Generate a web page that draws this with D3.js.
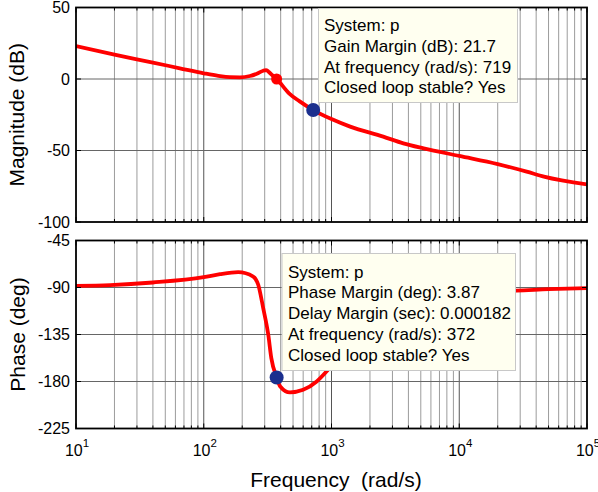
<!DOCTYPE html>
<html>
<head>
<meta charset="utf-8">
<script src="https://cdn.jsdelivr.net/npm/d3@7"></script>
<style>
  body { margin: 0; background: #fff; }
  text { font-family: "Liberation Sans", Arial, sans-serif; fill: #000; }
</style>
</head>
<body>
<svg id="chart" width="598" height="492"></svg>
<script>
// magnitude response
var magFreq = [10, 20, 40, 65, 100, 130, 160, 192, 230, 260, 292, 307, 320, 340, 372, 465, 560, 719, 1000, 1400, 2540, 3650, 5260, 10000, 20000, 33700, 46000, 100000];
var magDb   = [23, 17, 11.5, 7.5, 4, 2.2, 1.3, 1.2, 2.1, 3.6, 5.8, 6.2, 5.3, 3, 0, -10, -15.5, -21.7, -28, -33.3, -40.3, -45, -48.5, -53.8, -59.5, -64.8, -68.3, -73.7];

// phase response
var phaseFreq = [10, 18.5, 40, 100, 134, 186, 244, 267, 292, 320, 338, 372, 397, 473, 600, 766, 940, 1300, 2000, 3000, 5000, 10000, 20000, 28000, 50000, 100000];
var phaseDeg  = [-88.4, -87.7, -85.2, -80.1, -77.2, -75.3, -79.5, -87.4, -109.7, -135.3, -157.6, -176.1, -184.8, -190.5, -188, -180, -168.8, -148, -126, -112, -101, -95.5, -93.3, -92.9, -91.6, -90.6];

var magTicks = [50, 0, -50, -100];
var phaseTicks = [-45, -90, -135, -180, -225];
var decades = [1, 2, 3, 4, 5];

// margin markers
var gmPoint = {freq: 719, val: -21.7};
var crossPoint = {freq: 372, val: 0};
var pmPoint = {freq: 372, val: -176.13};

var gmText = ["System: p", "Gain Margin (dB): 21.7", "At frequency (rad/s): 719", "Closed loop stable? Yes"];
var pmText = ["System: p", "Phase Margin (deg): 3.87", "Delay Margin (sec): 0.000182", "At frequency (rad/s): 372", "Closed loop stable? Yes"];

var left = 76, right = 587;
var svg = d3.select("#chart");

var x = d3.scaleLog().domain([10, 1e5]).range([left, right]);
var yMag = d3.scaleLinear().domain([-100, 50]).range([222, 7.5]);
var yPh = d3.scaleLinear().domain([-225, -45]).range([428.5, 240.5]);

// minor positions 2..9 in each decade
var minors = [];
for (var k = 1; k < 5; k++) {
  for (var m = 2; m < 10; m++) minors.push(m * Math.pow(10, k));
}
var majors = decades.map(function(d) { return Math.pow(10, d); });

function panel(y, ticks, freq, vals, id) {
  var g = svg.append("g");
  var y0 = y.range()[0], y1 = y.range()[1];

  g.append("clipPath").attr("id", id)
    .append("rect").attr("x", left).attr("y", y1).attr("width", right - left).attr("height", y0 - y1);

  // grid
  g.append("g").selectAll("line").data(minors).enter().append("line")
    .attr("x1", function(d) { return x(d); }).attr("x2", function(d) { return x(d); })
    .attr("y1", y1).attr("y2", y0)
    .attr("stroke", "#9c9c9c").attr("stroke-width", 1);
  g.append("g").selectAll("line").data(majors.slice(1, 4)).enter().append("line")
    .attr("x1", function(d) { return x(d); }).attr("x2", function(d) { return x(d); })
    .attr("y1", y1).attr("y2", y0)
    .attr("stroke", "#555").attr("stroke-width", 1);
  g.append("g").selectAll("line").data(ticks.slice(1, ticks.length - 1)).enter().append("line")
    .attr("x1", left).attr("x2", right)
    .attr("y1", function(d) { return y(d); }).attr("y2", function(d) { return y(d); })
    .attr("stroke", "#666").attr("stroke-width", 1);

  // response curve
  var line = d3.line()
    .x(function(d) { return x(d[0]); })
    .y(function(d) { return y(d[1]); })
    .curve(d3.curveMonotoneX);
  g.append("path")
    .datum(d3.zip(freq, vals))
    .attr("clip-path", "url(#" + id + ")")
    .attr("d", line)
    .attr("fill", "none")
    .attr("stroke", "#ff0000")
    .attr("stroke-width", 3.8)
    .attr("stroke-linejoin", "round");

  // ticks inside the box
  var tk = g.append("g").attr("stroke", "#000").attr("stroke-width", 1);
  minors.forEach(function(d) {
    tk.append("line").attr("x1", x(d)).attr("x2", x(d)).attr("y1", y0).attr("y2", y0 - 3);
    tk.append("line").attr("x1", x(d)).attr("x2", x(d)).attr("y1", y1).attr("y2", y1 + 3);
  });
  majors.forEach(function(d) {
    tk.append("line").attr("x1", x(d)).attr("x2", x(d)).attr("y1", y0).attr("y2", y0 - 5);
    tk.append("line").attr("x1", x(d)).attr("x2", x(d)).attr("y1", y1).attr("y2", y1 + 5);
  });
  ticks.forEach(function(d) {
    tk.append("line").attr("x1", left).attr("x2", left + 5).attr("y1", y(d)).attr("y2", y(d));
    tk.append("line").attr("x1", right).attr("x2", right - 5).attr("y1", y(d)).attr("y2", y(d));
  });

  // box
  g.append("rect")
    .attr("x", left).attr("y", y1).attr("width", right - left).attr("height", y0 - y1)
    .attr("fill", "none").attr("stroke", "#000").attr("stroke-width", 1.8);

  // y tick labels
  g.append("g").selectAll("text").data(ticks).enter().append("text")
    .attr("x", 70).attr("y", function(d) { return y(d); })
    .attr("dy", "0.36em")
    .attr("text-anchor", "end")
    .attr("font-size", 16)
    .text(function(d) { return d; });

  return g;
}

function tip(g, bx, by, bw, bh, lines, tx, ty) {
  g.append("rect")
    .attr("x", bx).attr("y", by).attr("width", bw).attr("height", bh)
    .attr("fill", "#fffff0").attr("stroke", "#c8c8c8").attr("stroke-width", 1);
  g.append("g").selectAll("text").data(lines).enter().append("text")
    .attr("x", tx).attr("y", function(d, i) { return ty + i * 20.8; })
    .attr("font-size", 17)
    .text(function(d) { return d; });
}

var magG = panel(yMag, magTicks, magFreq, magDb, "clipMag");
magG.append("circle").attr("cx", x(crossPoint.freq)).attr("cy", yMag(crossPoint.val)).attr("r", 5.5).attr("fill", "#ff0000");
magG.append("circle").attr("cx", x(gmPoint.freq)).attr("cy", yMag(gmPoint.val)).attr("r", 7).attr("fill", "#1b2f8e");
tip(magG, 318.5, 8.5, 199, 94, gmText, 324, 31);

var phG = panel(yPh, phaseTicks, phaseFreq, phaseDeg, "clipPh");
phG.append("circle").attr("cx", x(pmPoint.freq)).attr("cy", yPh(pmPoint.val)).attr("r", 7).attr("fill", "#1b2f8e");
tip(phG, 282, 253.5, 233.5, 117, pmText, 288, 277.5);

// x tick labels
var xl = svg.append("g").selectAll("text").data(decades).enter().append("text")
  .attr("x", function(d) { return x(Math.pow(10, d)) + 1; })
  .attr("y", 456)
  .attr("text-anchor", "middle")
  .attr("font-size", 16);
xl.append("tspan").text("10");
xl.append("tspan").attr("dy", -9).attr("font-size", 11.5).text(function(d) { return d; });

// axis titles
svg.append("text")
  .attr("x", 336).attr("y", 487)
  .attr("text-anchor", "middle")
  .attr("font-size", 21)
  .style("white-space", "pre")
  .text("Frequency  (rad/s)");

svg.append("text")
  .attr("transform", "translate(24," + ((yMag.range()[0] + yMag.range()[1]) / 2) + ") rotate(-90)")
  .attr("text-anchor", "middle")
  .attr("font-size", 21)
  .text("Magnitude (dB)");

svg.append("text")
  .attr("transform", "translate(25," + ((yPh.range()[0] + yPh.range()[1]) / 2) + ") rotate(-90)")
  .attr("text-anchor", "middle")
  .attr("font-size", 21)
  .text("Phase (deg)");
</script>
</body>
</html>
